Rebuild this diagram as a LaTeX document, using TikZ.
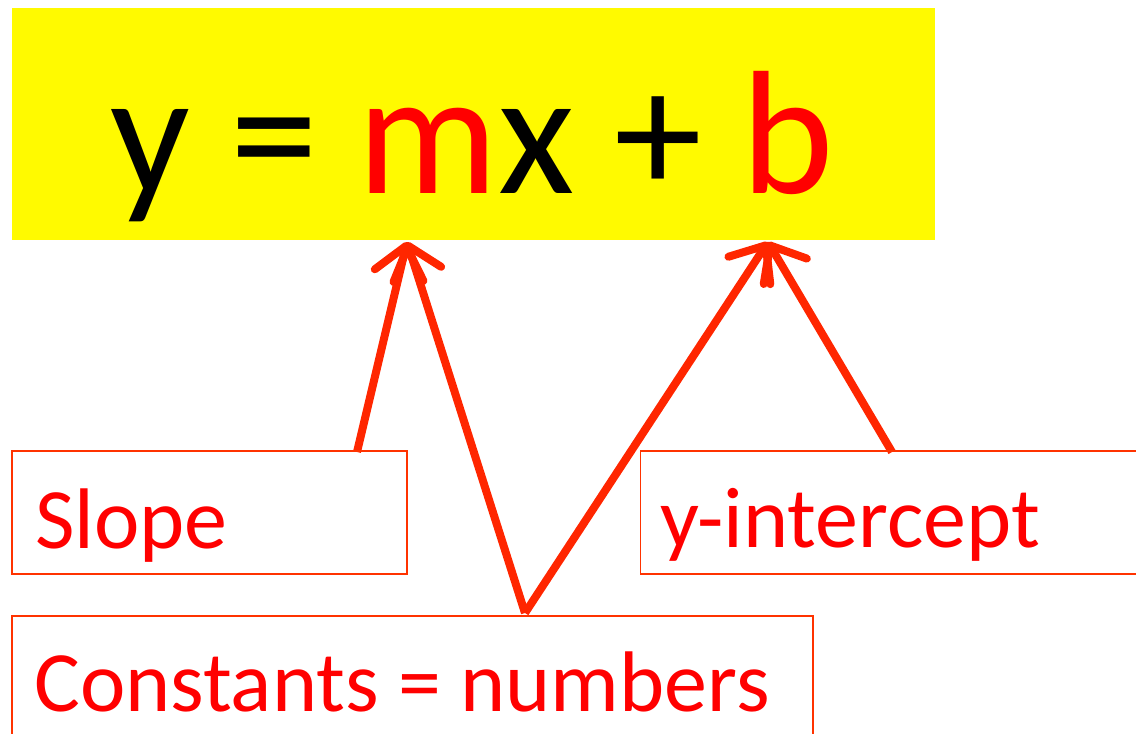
\documentclass[tikz,border=0pt]{standalone}
\usepackage{fontspec}
\setmainfont{Carlito}
\usetikzlibrary{arrows.meta}
\definecolor{arrowred}{RGB}{255,38,0}
\definecolor{boxred}{RGB}{255,51,0}
\definecolor{txtred}{RGB}{255,0,0}
\definecolor{eqyellow}{RGB}{255,250,0}
\tikzset{
  conn/.style={draw=arrowred, line width=8pt,
    -{Straight Barb[round,length=30pt,width=50pt]}},
  labelbox/.style={draw=boxred, line width=1.6pt, inner sep=0pt, rectangle},
  labeltext/.style={text=txtred, inner sep=0pt, anchor=base west,
    font=\fontsize{86}{100}\selectfont},
}
\begin{document}
\begin{tikzpicture}[x=1pt,y=-1pt]
\useasboundingbox (0,0) rectangle (1136,734);
\clip (0,0) rectangle (1136,734);
% equation box
\node[fill=eqyellow, inner sep=0pt, minimum width=923pt, minimum height=232pt] (eqbox) at (473.5,124) {};
\node[inner sep=0pt, anchor=base, font=\fontsize{176}{200}\selectfont] (eq) at (472.5,193)
  {y = \textcolor{txtred}{m}x + \textcolor{txtred}{b}};
% connector ends
\coordinate (mtip) at (407,242);
\coordinate (btip) at (768,242);
\coordinate (sfoot) at (357,452);
\coordinate (yfoot) at (892,452);
\coordinate (cfoot) at (525,613);
% connectors
\draw[conn] (sfoot) -- (mtip);
\draw[conn] (cfoot) -- (mtip);
\draw[conn] (cfoot) -- (btip);
\draw[conn] (yfoot) -- (btip);
% label boxes
\node[labelbox, minimum width=395pt, minimum height=123pt] (slopebox) at (209.5,512.5) {};
\node[labelbox, minimum width=520pt, minimum height=123pt] (ybox) at (900.5,512.5) {};
\node[labelbox, minimum width=801pt, minimum height=144pt] (constbox) at (412.5,688) {};
% label texts
\node[labeltext] (slope) at (35,548) {Slope};
\node[labeltext] (yint) at (660,547) {y-intercept};
\node[labeltext] (const) at (34,711) {Constants = numbers};
\end{tikzpicture}
\end{document}
